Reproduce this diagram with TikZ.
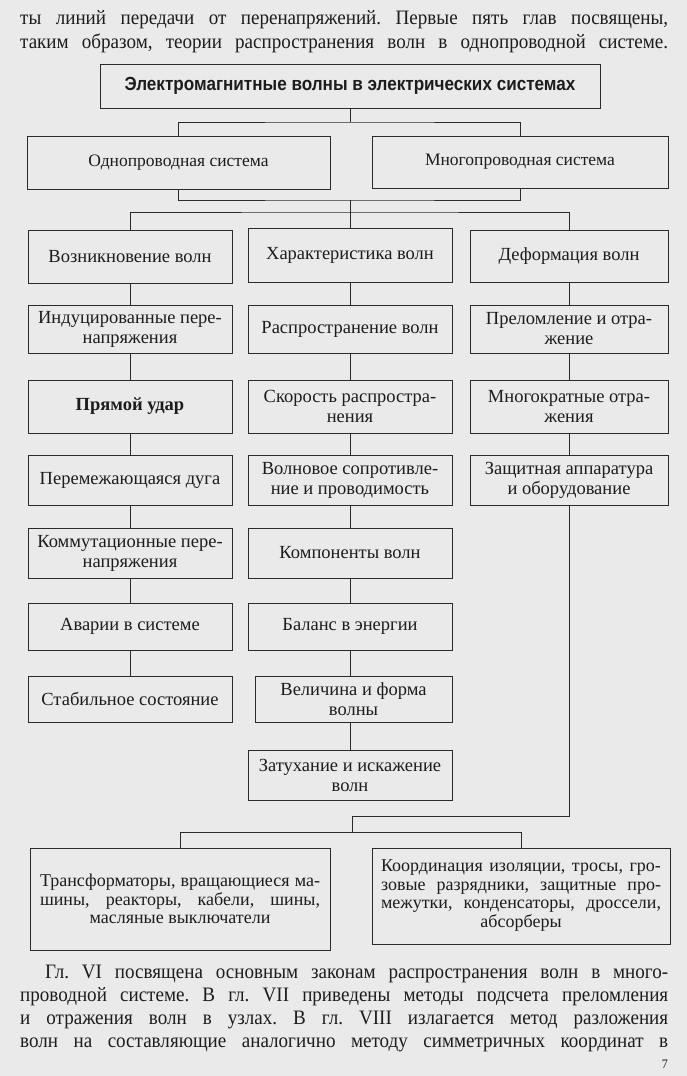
\documentclass[tikz,border=0pt]{standalone}
\usepackage{fontspec}
\setmainfont[FakeStretch=0.93]{Liberation Serif}
\newfontfamily\boxfont{Liberation Serif}
\newfontfamily\titlefont[FakeStretch=0.9]{Liberation Sans}
\definecolor{paper}{HTML}{EAEAEA}
\definecolor{txt}{HTML}{1C1C1C}
\definecolor{linec}{HTML}{2A2A2A}
\frenchspacing
\begin{document}
\begin{tikzpicture}[x=1pt,y=-1pt,
  bx/.style={draw=linec, line width=0.9pt, minimum width=204pt, inner sep=0pt, align=center, text=txt, font=\boxfont\fontsize{18.5}{20}\selectfont},
  ln/.style={draw=linec, line width=0.9pt},
  body/.style={anchor=base west, inner sep=0pt, text=txt, font=\fontsize{20.5}{23}\selectfont}]
\fill[paper] (0,0) rectangle (687,1076);
\useasboundingbox (0,0) rectangle (687,1076);
% top text
\node[body] (t1) at (20,24) {\makebox[648pt][s]{ты линий передачи от перенапряжений. Первые пять глав посвящены,}};
\node[body] (t2) at (20,48) {\makebox[648pt][s]{таким образом, теории распространения волн в однопроводной системе.}};
% boxes
\node[bx, minimum width=500pt, minimum height=44pt, font=\titlefont\bfseries\fontsize{19}{20}\selectfont] (top) at (350,86) {Электромагнитные волны в электрических системах};
\node[bx, minimum width=303pt, minimum height=53pt, font=\boxfont\fontsize{17.5}{20}\selectfont] (odno) at (178.5,163) {Однопроводная система};
\node[bx, minimum width=296pt, minimum height=52pt, font=\boxfont\fontsize{17.5}{20}\selectfont] (mnogo) at (520,162) {Многопроводная система};
% left column
\node[bx, minimum height=53pt] (l1) at (130,256.5) {Возникновение волн};
\node[bx, minimum height=48pt] (l2) at (130,329) {Индуцированные пере-\\напряжения};
\node[bx, minimum height=53pt, font=\boxfont\bfseries\fontsize{18.5}{20}\selectfont] (l3) at (130,406.5) {Прямой удар};
\node[bx, minimum height=50pt] (l4) at (130,480) {Перемежающаяся дуга};
\node[bx, minimum height=50pt] (l5) at (130,553) {Коммутационные пере-\\напряжения};
\node[bx, minimum height=47pt] (l6) at (130,626.5) {Аварии в системе};
\node[bx, minimum height=46pt] (l7) at (130,699) {Стабильное состояние};
% centre column
\node[bx, minimum height=54pt] (c1) at (350,255) {Характеристика волн};
\node[bx, minimum height=48pt] (c2) at (350,329) {Распространение волн};
\node[bx, minimum height=53pt] (c3) at (350,406.5) {Скорость распростра-\\нения};
\node[bx, minimum height=50pt] (c4) at (350,480) {Волновое сопротивле-\\ние и проводимость};
\node[bx, minimum height=50pt] (c5) at (350,553) {Компоненты волн};
\node[bx, minimum height=47pt] (c6) at (350,626.5) {Баланс в энергии};
\node[bx, minimum height=46pt, minimum width=197pt] (c7) at (353.5,699) {Величина и форма\\волны};
\node[bx, minimum height=50pt] (c8) at (350,775) {Затухание и искажение\\волн};
% right column
\node[bx, minimum width=198pt, minimum height=52pt] (r1) at (569,256) {Деформация волн};
\node[bx, minimum width=198pt, minimum height=48pt] (r2) at (569,329) {Преломление и отра-\\жение};
\node[bx, minimum width=198pt, minimum height=53pt] (r3) at (569,406.5) {Многократные отра-\\жения};
\node[bx, minimum width=198pt, minimum height=50pt] (r4) at (569,480) {Защитная аппаратура\\и оборудование};
% bottom boxes
\node[bx, minimum width=300pt, minimum height=102pt, font=\boxfont\fontsize{18}{18.5}\selectfont] (bl) at (180,899) {\makebox[280pt][s]{Трансформаторы, вращающиеся ма-}\\\makebox[280pt][s]{шины, реакторы, кабели, шины,}\\масляные выключатели};
\node[bx, minimum width=298pt, minimum height=96pt, font=\boxfont\fontsize{18}{18.5}\selectfont] (br) at (521,896) {\raisebox{-4pt}{\begin{tabular}{@{}c@{}}\makebox[280pt][s]{Координация изоляции, тросы, гро-}\\\makebox[280pt][s]{зовые разрядники, защитные про-}\\\makebox[280pt][s]{межутки, конденсаторы, дроссели,}\\абсорберы\end{tabular}}};
% junction coordinates
\coordinate (j1) at (350,122);
\coordinate (j2) at (350,200);
\coordinate (j3) at (350,212);
\coordinate (j4) at (352,816);
\coordinate (j5) at (352,832);
% connectors
\draw[ln] (top.south) -- (j1);
\draw[ln] (odno.north) |- (j1) -| (mnogo.north);
\draw[ln] (odno.south) |- (j2) -| (mnogo.south);
\draw[ln] (j2) -- (c1.north);
\draw[ln] (l1.north) |- (j3) -| (r1.north);
\draw[ln] (l1) -- (l2) (l2) -- (l3) (l3) -- (l4) (l4) -- (l5) (l5) -- (l6) (l6) -- (l7);
\draw[ln] (c1) -- (c2) (c2) -- (c3) (c3) -- (c4) (c4) -- (c5) (c5) -- (c6);
\draw[ln] (c6.south) -- (c6.south |- c7.north);
\draw[ln] (c7.south -| c6.south) -- (c8.north);
\draw[ln] (r1) -- (r2) (r2) -- (r3) (r3) -- (r4);
\draw[ln] (r4.south) |- (j4) -- (j5);
\draw[ln] (bl.north) |- (j5) -| (br.north);
% bottom text
\node[body] (b1) at (45,978) {\makebox[623pt][s]{Гл. VI посвящена основным законам распространения волн в много-}};
\node[body] (b2) at (20,1001) {\makebox[648pt][s]{проводной системе. В гл. VII приведены методы подсчета преломления}};
\node[body] (b3) at (20,1024) {\makebox[648pt][s]{и отражения волн в узлах. В гл. VIII излагается метод разложения}};
\node[body] (b4) at (20,1047) {\makebox[648pt][s]{волн на составляющие аналогично методу симметричных координат в}};
\node[anchor=base east, inner sep=0pt, text=txt, font=\fontsize{13}{15}\selectfont] (pg) at (668,1068) {7};
\end{tikzpicture}
\end{document}
